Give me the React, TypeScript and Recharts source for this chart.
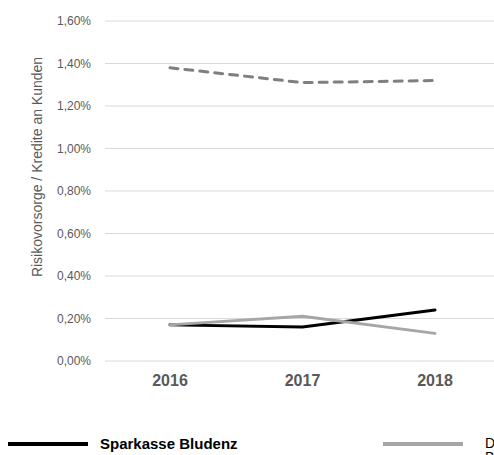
import { LineChart, Line, XAxis, YAxis, CartesianGrid } from 'recharts';

const years = ['2016', '2017', '2018'];
const bludenz = [0.17, 0.16, 0.24];
const banken = [0.17, 0.21, 0.13];
const sparkassen = [1.38, 1.31, 1.32];
const yTicks = [0, 0.2, 0.4, 0.6, 0.8, 1.0, 1.2, 1.4, 1.6];

const SERIES = [
  { key: 'bludenz', name: 'Sparkasse Bludenz', color: '#000000', dash: undefined },
  { key: 'banken', name: 'Durchschnitt Banken Vorarlberg', color: '#a6a6a6', dash: undefined },
  { key: 'sparkassen', name: 'Durchschnitt Sparkassen', color: '#7f7f7f', dash: '8 7' },
];

const data = years.map((year, i) => ({
  year,
  bludenz: bludenz[i],
  banken: banken[i],
  sparkassen: sparkassen[i],
}));

const FONT = '"Liberation Sans", Arial, sans-serif';
const TEXT = '#595959';

const fmt = (v: number) => `${v.toFixed(2).replace('.', ',')}%`;

const App = () => {
  return (
    <div
      style={{
        position: 'absolute',
        left: 0,
        top: 0,
        width: 494,
        height: 455,
        overflow: 'hidden',
        background: '#fff',
        fontFamily: FONT,
      }}
    >
      <LineChart
        width={503}
        height={455}
        data={data}
        margin={{ top: 21, right: 0, left: 0, bottom: 64 }}
      >
        <CartesianGrid vertical={false} stroke="#d9d9d9" strokeWidth={1} />
        <XAxis
          dataKey="year"
          height={30}
          axisLine={false}
          tickLine={false}
          tickSize={0}
          tickMargin={14}
          padding={{ left: 65, right: 68 }}
          tick={{ fill: TEXT, fontSize: 16, fontWeight: 'bold', fontFamily: FONT }}
        />
        <YAxis
          width={105}
          domain={[0, 1.6]}
          ticks={yTicks}
          tickFormatter={fmt}
          axisLine={false}
          tickLine={false}
          tickSize={0}
          tickMargin={14}
          tick={{ fill: TEXT, fontSize: 12, fontFamily: FONT }}
          label={{
            value: 'Risikovorsorge / Kredite an Kunden',
            angle: -90,
            position: 'center',
            dx: -15,
            dy: -24,
            fill: TEXT,
            fontSize: 14,
            fontFamily: FONT,
          }}
        />
        {SERIES.map((s) => (
          <Line
            key={s.key}
            dataKey={s.key}
            name={s.name}
            type="linear"
            stroke={s.color}
            strokeWidth={3}
            strokeDasharray={s.dash}
            strokeLinecap="round"
            dot={false}
            activeDot={false}
            isAnimationActive={false}
          />
        ))}
      </LineChart>
      {SERIES.map((s, i) => (
        <div
          key={s.key}
          style={{
            position: 'absolute',
            left: 8 + i * 375,
            top: 432,
            display: 'flex',
            alignItems: 'flex-start',
            height: 26,
          }}
        >
          <svg width={80} height={6} style={{ display: 'block', marginTop: 9 }}>
            <line
              x1={0}
              y1={3}
              x2={80}
              y2={3}
              stroke={s.color}
              strokeWidth={4}
              strokeDasharray={s.dash}
            />
          </svg>
          <div
            style={{
              marginLeft: i === 0 ? 12 : 22,
              width: i === 0 ? 200 : 120,
              fontSize: i === 0 ? 15 : 14,
              fontWeight: i === 0 ? 'bold' : 'normal',
              color: '#000',
              lineHeight: i === 0 ? '24px' : '14px',
              marginTop: i === 0 ? 0 : 4,
            }}
          >
            {s.name}
          </div>
        </div>
      ))}
    </div>
  );
};

export default App;
